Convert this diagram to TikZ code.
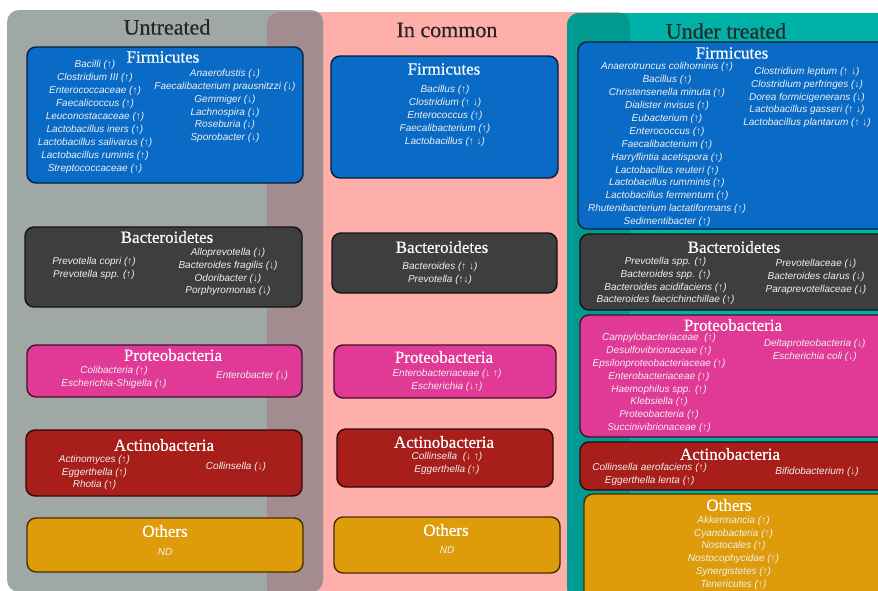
\documentclass[tikz,border=0pt]{standalone}
\usepackage{fontspec}
\setmainfont{Liberation Serif}
\setsansfont{Liberation Sans}
\newfontfamily\titlefont[FakeBold=0.5]{Liberation Serif}
\definecolor{untreatbg}{HTML}{A0A8A6}
\definecolor{commonbg}{HTML}{FEAFA9}
\definecolor{treatbg}{HTML}{00B1A7}
\definecolor{untreatcommon}{HTML}{A38C8F}
\definecolor{treatcommon}{HTML}{009A91}
\definecolor{firmi}{HTML}{0A6BC6}
\definecolor{bactero}{HTML}{3E3E3E}
\definecolor{proteo}{HTML}{E03A96}
\definecolor{actino}{HTML}{A81E1B}
\definecolor{others}{HTML}{DE9C0B}
\tikzset{
  panel/.style={rounded corners=12pt},
  phylum/.style={line width=1.4pt, rounded corners=9pt, inner sep=0pt},
  heading/.style={font=\titlefont\fontsize{22}{24}\selectfont, text=black!85},
  phylumtitle/.style={font=\titlefont\fontsize{17}{19}\selectfont, text=white},
  taxa/.style={font=\sffamily\itshape\fontsize{10}{12.9}\selectfont, text=white!94!black, align=center, inner sep=0pt}
}
\begin{document}
\begin{tikzpicture}[x=1pt,y=-1pt]
\useasboundingbox (0,0) rectangle (878,590);
\clip (0,0) rectangle (878,590);
\fill[commonbg, panel] (267,12) rectangle (630,600);
\fill[untreatbg, panel] (7,10) rectangle (323,592);
\fill[treatbg, panel] (567,13) rectangle (900,600);
\begin{scope}
  \clip[panel] (7,10) rectangle (323,592);
  \fill[untreatcommon, panel] (267,12) rectangle (630,600);
\end{scope}
\begin{scope}
  \clip[panel] (567,13) rectangle (900,600);
  \fill[treatcommon, panel] (267,12) rectangle (630,600);
\end{scope}

\node[heading] (untreated) at (167,27) {Untreated};
\node[heading] (common) at (447,30) {In common};
\node[heading] (treated) at (726,31) {Under treated};

\foreach \nm/\xa/\ya/\xb/\yb/\col in {unFirm/27/47/303/183/firmi,unBact/25/227/302/307/bactero,unProt/27/345/302/397/proteo,unActi/26/430/302/496/actino,unOth/27/518/303/572/others,
  coFirm/331/56/558/178/firmi,coBact/332/233/557/293/bactero,coProt/334/345/556/398/proteo,coActi/337/429/553/487/actino,coOth/334/517/560/573/others,
  trFirm/578/42/890/229/firmi,trBact/580/234/890/310/bactero,trProt/580/315/890/437/proteo,trActi/580/442/890/490/actino,trOth/584/494/890/600/others}
  \node[phylum, draw=\col!30!black, fill=\col, minimum width={(\xb-\xa)*1pt}, minimum height={(\yb-\ya)*1pt}] (\nm) at ({(\xa+\xb)/2},{(\ya+\yb)/2}) {};

\foreach \nm/\x/\y/\txt in {unFirmT/163/57/Firmicutes,unBactT/167/237/Bacteroidetes,unProtT/173/355/Proteobacteria,unActiT/164/445/Actinobacteria,unOthT/165/531/Others,
  coFirmT/444/69/Firmicutes,coBactT/442/247/Bacteroidetes,coProtT/444/357/Proteobacteria,coActiT/444/442/Actinobacteria,coOthT/446/530/Others,
  trFirmT/732/53/Firmicutes,trBactT/734/247/Bacteroidetes,trProtT/733/325/Proteobacteria,trActiT/730/454/Actinobacteria,trOthT/729/505/Others}
  \node[phylumtitle] (\nm) at (\x,\y) {\txt};

\node[taxa] (unFirmL) at (95,117) {Bacilli (↑)\\Clostridium III (↑)\\Enterococcaceae (↑)\\Faecalicoccus (↑)\\Leuconostacaceae (↑)\\Lactobacillus iners (↑)\\Lactobacillus salivarus (↑)\\Lactobacillus ruminis (↑)\\Streptococcaceae (↑)};
\node[taxa] (unFirmR) at (225,106) {Anaerofustis (↓)\\Faecalibacterium prausnitzzi (↓)\\Gemmiger (↓)\\Lachnospira (↓)\\Roseburia (↓)\\Sporobacter (↓)};
\node[taxa] (unBactL) at (94,268.5) {Prevotella copri (↑)\\Prevotella spp. (↑)};
\node[taxa] (unBactR) at (228,272) {Alloprevotella (↓)\\Bacteroides fragilis (↓)\\Odoribacter (↓)\\Porphyromonas (↓)};
\node[taxa] (unProtL) at (114,377) {Colibacteria (↑)\\Escherichia-Shigella (↑)};
\node[taxa] (unProtR) at (252,376) {Enterobacter (↓)};
\node[taxa] (unActiL) at (94.5,472.5) {Actinomyces (↑)\\Eggerthella (↑)\\Rhotia (↑)};
\node[taxa] (unActiR) at (236,467) {Collinsella (↓)};
\node[taxa] (unOthL) at (165,552) {ND};

\node[taxa] (coFirmL) at (445,116) {Bacillus (↑)\\Clostridium (↑ ↓)\\Enterococcus (↑)\\Faecalibacterium (↑)\\Lactobacillus (↑ ↓)};
\node[taxa] (coBactL) at (440,273.5) {Bacteroides (↑ ↓)\\Prevotella (↑↓)};
\node[taxa] (coProtL) at (447,380) {Enterobacteriaceae (↓ ↑)\\Escherichia (↓↑)};
\node[taxa] (coActiL) at (447,463.5) {Collinsella~ (↓ ↑)\\Eggerthella (↑)};
\node[taxa] (coOthL) at (447,550) {ND};

\node[taxa] (trFirmL) at (667,144.7) {Anaerotruncus colihominis (↑)\\Bacillus (↑)\\Christensenella minuta (↑)\\Dialister invisus (↑)\\Eubacterium (↑)\\Enterococcus (↑)\\Faecalibacterium (↑)\\Harryflintia acetispora (↑)\\Lactobacillus reuteri (↑)\\Lactobacillus rumminis (↑)\\Lactobacillus fermentum (↑)\\Rhutenibacterium lactatiformans (↑)\\Sedimentibacter (↑)};
\node[taxa] (trFirmR) at (807,97.5) {Clostridium leptum (↑ ↓)\\Clostridium perfringes (↓)\\Dorea formicigenerans (↓)\\Lactobacillus gasseri (↑ ↓)\\Lactobacillus plantarum (↑ ↓)};
\node[taxa] (trBactL) at (665.5,281) {Prevotella spp. (↑)\\Bacteroides spp. (↑)\\Bacteroides acidifaciens (↑)\\Bacteroides faecichinchillae (↑)};
\node[taxa] (trBactR) at (816,276.7) {Prevotellaceae (↓)\\Bacteroides clarus (↓)\\Paraprevotellaceae (↓)};
\node[taxa] (trProtL) at (659,383) {Campylobacteriaceae~ (↑)\\Desulfovibrionaceae (↑)\\Epsilonproteobacteriaceae (↑)\\Enterobacteriaceae (↑)\\Haemophilus spp. (↑)\\Klebsiella (↑)\\Proteobacteria (↑)\\Succinivibrionaceae (↑)};
\node[taxa] (trProtR) at (814.7,350) {Deltaproteobacteria (↓)\\Escherichia coli (↓)};
\node[taxa] (trActiL) at (649.7,474) {Collinsella aerofaciens (↑)\\Eggerthella lenta (↑)};
\node[taxa] (trActiR) at (817,472) {Bifidobacterium (↓)};
\node[taxa] (trOthL) at (733.5,552.8) {Akkermancia (↑)\\Cyanobacteria (↑)\\Nostocales (↑)\\Nostocophycidae (↑)\\Synergistetes (↑)\\Tenericutes (↑)};
\end{tikzpicture}
\end{document}
